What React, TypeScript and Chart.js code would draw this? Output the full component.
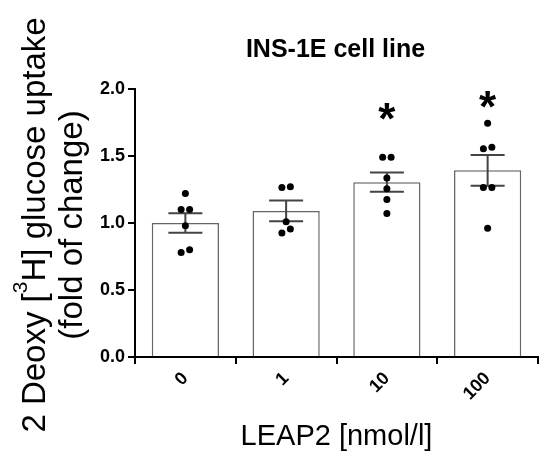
import React, { useEffect, useRef } from 'react';
import { Chart, registerables } from 'chart.js';

Chart.register(...registerables);

const categories = ['0', '1', '10', '100'];
const means = [1.0, 1.09, 1.305, 1.393];
const sems = [0.073, 0.077, 0.071, 0.115];
const group0 = [1.22, 1.1, 1.1, 0.98, 0.78, 0.8];
const group1 = [1.265, 1.27, 1.01, 0.925, 0.955];
const group2 = [1.49, 1.49, 1.335, 1.255, 1.175, 1.07];
const group3 = [1.745, 1.555, 1.565, 1.265, 1.265, 0.96];
const groups = [group0, group1, group2, group3];
const sigMarks = ['', '', '*', '*'];
const sigLevels = [0, 0, 1.83, 1.92];
const yTicks = [0, 0.5, 1.0, 1.5, 2.0];
const chartTitle = 'INS-1E cell line';
const xTitle = 'LEAP2 [nmol/l]';
const yTitlePre = '2 Deoxy [';
const yTitleSup = '3';
const yTitlePost = 'H] glucose uptake';
const yTitle2 = '(fold of change)';

const FONT = "'Liberation Sans', Arial, Helvetica, sans-serif";
const JITTER = 0.042;
const PAIR_GAP = 0.05;

function buildPoints() {
  const pts: { x: number; y: number }[] = [];
  groups.forEach((g, gi) => {
    g.forEach((v, j) => {
      let off = 0;
      for (let k = 0; k < g.length; k++) {
        if (k !== j && Math.abs(g[k] - v) < PAIR_GAP) {
          off = j < k ? -JITTER : JITTER;
          break;
        }
      }
      pts.push({ x: gi + off, y: v });
    });
  });
  return pts;
}

const annotate = {
  id: 'annotate',
  afterDatasetDraw(chart: any, args: any) {
    if (args.index !== 0) return;
    const { ctx } = chart;
    const x = chart.scales.x;
    const y = chart.scales.y;
    ctx.save();
    ctx.strokeStyle = '#444';
    ctx.lineWidth = 2;
    means.forEach((m, i) => {
      const cx = x.getPixelForValue(i);
      const yt = y.getPixelForValue(m + sems[i]);
      const yb = y.getPixelForValue(m - sems[i]);
      ctx.beginPath();
      ctx.moveTo(cx, yt);
      ctx.lineTo(cx, yb);
      ctx.moveTo(cx - 17, yt);
      ctx.lineTo(cx + 17, yt);
      ctx.moveTo(cx - 17, yb);
      ctx.lineTo(cx + 17, yb);
      ctx.stroke();
    });
    ctx.restore();
  },
  afterDraw(chart: any) {
    const { ctx, chartArea } = chart;
    const x = chart.scales.x;
    const y = chart.scales.y;
    ctx.save();
    ctx.fillStyle = '#000';
    ctx.font = `bold 44px ${FONT}`;
    ctx.textAlign = 'center';
    ctx.textBaseline = 'alphabetic';
    sigMarks.forEach((s, i) => {
      if (!s) return;
      const m = ctx.measureText(s);
      const cy = y.getPixelForValue(sigLevels[i]);
      const off = (m.actualBoundingBoxAscent - m.actualBoundingBoxDescent) / 2;
      ctx.fillText(s, x.getPixelForValue(i), cy + off);
    });
    ctx.font = `bold 25px ${FONT}`;
    ctx.fillText(chartTitle, (chartArea.left + chartArea.right) / 2 - 1, 49);
    ctx.font = `29px ${FONT}`;
    ctx.fillText(xTitle, (chartArea.left + chartArea.right) / 2, 437);
    ctx.rotate(-Math.PI / 2);
    ctx.textAlign = 'left';
    const big = `33px ${FONT}`;
    const small = `21px ${FONT}`;
    ctx.font = big;
    const w1 = ctx.measureText(yTitlePre).width;
    const w3 = ctx.measureText(yTitlePost).width;
    ctx.font = small;
    const w2 = ctx.measureText(yTitleSup).width;
    const total = w1 + w2 + w3;
    let sx = -217 - total / 2;
    ctx.font = big;
    ctx.fillText(yTitlePre, sx, 37);
    sx += w1;
    ctx.font = small;
    ctx.fillText(yTitleSup, sx, 37 - 18);
    sx += w2;
    ctx.font = big;
    ctx.fillText(yTitlePost, sx, 37);
    ctx.textAlign = 'center';
    ctx.fillText(yTitle2, -217, 74);
    ctx.restore();
  },
};

export default function App() {
  const ref = useRef<HTMLCanvasElement | null>(null);
  useEffect(() => {
    if (!ref.current) return;
    const chart = new Chart(ref.current, {
      type: 'bar',
      data: {
        datasets: [
          {
            type: 'bar',
            data: means.map((m, i) => ({ x: i, y: m })),
            backgroundColor: '#fff',
            borderColor: '#666',
            borderWidth: 1.5,
            barPercentage: 0.667,
            categoryPercentage: 1,
            order: 1,
          } as any,
          {
            type: 'scatter',
            data: buildPoints(),
            backgroundColor: '#000',
            borderWidth: 0,
            pointRadius: 3.5,
            order: 0,
          } as any,
        ],
      },
      options: {
        animation: false,
        responsive: true,
        maintainAspectRatio: false,
        layout: { padding: { top: 81, right: 3, left: 0, bottom: 0 } },
        plugins: {
          legend: { display: false },
          tooltip: { enabled: false },
          title: { display: false },
        },
        scales: {
          x: {
            type: 'linear',
            min: -0.5,
            max: 3.5,
            offset: false,
            afterBuildTicks: (s: any) => {
              s.ticks = categories.map((_, i) => ({ value: i }));
            },
            grid: {
              drawOnChartArea: false,
              color: '#000',
              lineWidth: 2,
              tickLength: 7,
            },
            border: { color: '#000', width: 2 },
            ticks: {
              color: '#000',
              font: { family: FONT, size: 18, weight: 'bold' },
              maxRotation: 45,
              minRotation: 45,
              padding: 4,
              autoSkip: false,
              callback: (_v: any, i: number) => categories[i],
            },
            afterFit: (s: any) => {
              s.height = 96;
            },
          },
          y: {
            type: 'linear',
            min: 0,
            max: 2,
            afterBuildTicks: (s: any) => {
              s.ticks = yTicks.map((v) => ({ value: v }));
            },
            ticks: {
              color: '#000',
              font: { family: FONT, size: 18, weight: 'bold' },
              padding: 3,
              callback: (v: any) => Number(v).toFixed(1),
            },
            grid: {
              drawOnChartArea: false,
              color: '#000',
              lineWidth: 2,
              tickLength: 7,
            },
            border: { color: '#000', width: 2 },
            afterFit: (s: any) => {
              s.width = 127;
            },
          },
        },
      } as any,
      plugins: [annotate],
    });
    return () => chart.destroy();
  }, []);
  return (
    <div style={{ width: 534, height: 445, position: 'relative' }}>
      <canvas ref={ref} />
    </div>
  );
}
